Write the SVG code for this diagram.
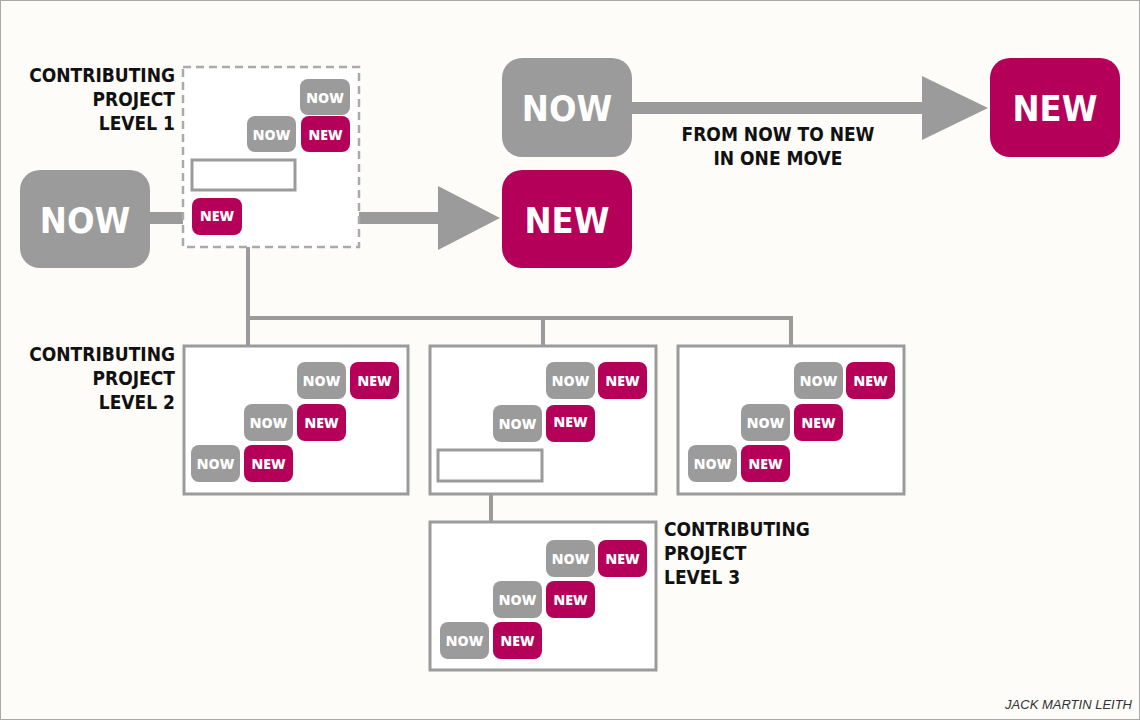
<svg xmlns="http://www.w3.org/2000/svg" width="1140" height="720" viewBox="0 0 1140 720">
<defs><style>
.g{fill:#9b9b9b}.m{fill:#b5005a}
.bt{font-family:"DejaVu Sans Condensed","Liberation Sans",sans-serif;font-weight:bold;fill:#fff;text-anchor:middle}
.st{font-family:"Open Sans","DejaVu Sans",sans-serif;font-weight:800;font-size:14px;fill:#fff;text-anchor:middle}
.lb{font-family:"DejaVu Sans Condensed","Liberation Sans",sans-serif;font-size:19px;font-weight:600;fill:#111}
.box{fill:#fff;stroke:#9b9b9b;stroke-width:3}
.ln{stroke:#9b9b9b;stroke-width:4;fill:none}
</style></defs>
<rect x="0.5" y="0.5" width="1139" height="719" fill="#fdfcf8" stroke="#aaa"/>
<g id="connectors">
<rect x="148" y="212" width="36" height="12" class="g"/>
<rect x="358" y="212" width="84" height="12" class="g"/>
<polygon points="438,186 500,218 438,250" class="g"/>
<rect x="630" y="102" width="296" height="12" class="g"/>
<polygon points="922,76 988,108 922,140" class="g"/>
<path class="ln" d="M248,190V318M246,318H793M248,318V346M543,318V346M791,318V346M491,481V522"/>
</g>
<g id="lvl1">
<rect x="183" y="67" width="176" height="180" fill="#fff" stroke="#aaa" stroke-width="2.5" stroke-dasharray="8,5"/>
<rect x="192" y="160" width="103" height="30" class="box"/>
<rect x="300" y="79" width="50" height="36" rx="8" class="g"/><text x="325" y="103" class="st">NOW</text>
<rect x="247" y="116" width="49" height="36" rx="8" class="g"/><text x="271.5" y="140" class="st">NOW</text>
<rect x="301" y="116" width="49" height="36" rx="8" class="m"/><text x="325.5" y="140" class="st">NEW</text>
<rect x="192" y="198" width="50" height="37" rx="8" class="m"/><text x="217" y="221" class="st">NEW</text>
<text class="lb" text-anchor="end"><tspan x="175" y="82">CONTRIBUTING</tspan><tspan x="175" y="106">PROJECT</tspan><tspan x="175" y="130">LEVEL 1</tspan></text>
</g>
<g id="now-left"><rect x="20" y="170" width="130" height="98" rx="20" class="g"/><text x="85" y="233" font-size="36" class="bt">NOW</text></g>
<g id="new-mid"><rect x="502" y="170" width="130" height="98" rx="20" class="m"/><text x="567" y="233" font-size="36" class="bt">NEW</text></g>
<g id="now-top"><rect x="502" y="58" width="130" height="99" rx="20" class="g"/><text x="567" y="121" font-size="36" class="bt">NOW</text></g>
<g id="new-top"><rect x="990" y="58" width="130" height="99" rx="20" class="m"/><text x="1055" y="121" font-size="36" class="bt">NEW</text></g>
<text class="lb" text-anchor="middle"><tspan x="778" y="141">FROM NOW TO NEW</tspan><tspan x="778" y="165">IN ONE MOVE</tspan></text>
<g id="lvl2a">
<rect x="184" y="346" width="224" height="148" class="box"/>
<rect x="297" y="362" width="49" height="37" rx="8" class="g"/><text x="321.5" y="386" class="st">NOW</text>
<rect x="350" y="362" width="49" height="37" rx="8" class="m"/><text x="374.5" y="386" class="st">NEW</text>
<rect x="244" y="404" width="49" height="37" rx="8" class="g"/><text x="268.5" y="428" class="st">NOW</text>
<rect x="297" y="404" width="49" height="37" rx="8" class="m"/><text x="321.5" y="428" class="st">NEW</text>
<rect x="191" y="445" width="49" height="37" rx="8" class="g"/><text x="215.5" y="469" class="st">NOW</text>
<rect x="244" y="445" width="49" height="37" rx="8" class="m"/><text x="268.5" y="469" class="st">NEW</text>
<text class="lb" text-anchor="end"><tspan x="175" y="361">CONTRIBUTING</tspan><tspan x="175" y="385">PROJECT</tspan><tspan x="175" y="409">LEVEL 2</tspan></text>
</g>
<g id="lvl2b">
<rect x="430" y="346" width="226" height="148" class="box"/>
<rect x="546" y="362" width="49" height="37" rx="8" class="g"/><text x="570.5" y="386" class="st">NOW</text>
<rect x="598" y="362" width="49" height="37" rx="8" class="m"/><text x="622.5" y="386" class="st">NEW</text>
<rect x="493" y="405" width="49" height="37" rx="8" class="g"/><text x="517.5" y="429" class="st">NOW</text>
<rect x="546" y="405" width="49" height="37" rx="8" class="m"/><text x="570.5" y="427" class="st">NEW</text>
<rect x="438" y="450" width="104" height="31" class="box"/>
</g>
<g id="lvl2c">
<rect x="678" y="346" width="226" height="148" class="box"/>
<rect x="794" y="362" width="49" height="37" rx="8" class="g"/><text x="818.5" y="386" class="st">NOW</text>
<rect x="846" y="362" width="49" height="37" rx="8" class="m"/><text x="870.5" y="386" class="st">NEW</text>
<rect x="741" y="404" width="49" height="37" rx="8" class="g"/><text x="765.5" y="428" class="st">NOW</text>
<rect x="794" y="404" width="49" height="37" rx="8" class="m"/><text x="818.5" y="428" class="st">NEW</text>
<rect x="688" y="445" width="49" height="37" rx="8" class="g"/><text x="712.5" y="469" class="st">NOW</text>
<rect x="741" y="445" width="49" height="37" rx="8" class="m"/><text x="765.5" y="469" class="st">NEW</text>
</g>
<g id="lvl3">
<rect x="430" y="522" width="226" height="148" class="box"/>
<rect x="546" y="540" width="49" height="37" rx="8" class="g"/><text x="570.5" y="564" class="st">NOW</text>
<rect x="598" y="540" width="49" height="37" rx="8" class="m"/><text x="622.5" y="564" class="st">NEW</text>
<rect x="493" y="581" width="49" height="37" rx="8" class="g"/><text x="517.5" y="605" class="st">NOW</text>
<rect x="546" y="581" width="49" height="37" rx="8" class="m"/><text x="570.5" y="605" class="st">NEW</text>
<rect x="440" y="622" width="49" height="37" rx="8" class="g"/><text x="464.5" y="646" class="st">NOW</text>
<rect x="493" y="622" width="49" height="37" rx="8" class="m"/><text x="517.5" y="646" class="st">NEW</text>
<text class="lb"><tspan x="664" y="536">CONTRIBUTING</tspan><tspan x="664" y="560">PROJECT</tspan><tspan x="664" y="584">LEVEL 3</tspan></text>
</g>
<text x="1132" y="709" text-anchor="end" font-family="Liberation Sans,sans-serif" font-style="italic" font-size="13" fill="#333">JACK MARTIN LEITH</text>
</svg>
